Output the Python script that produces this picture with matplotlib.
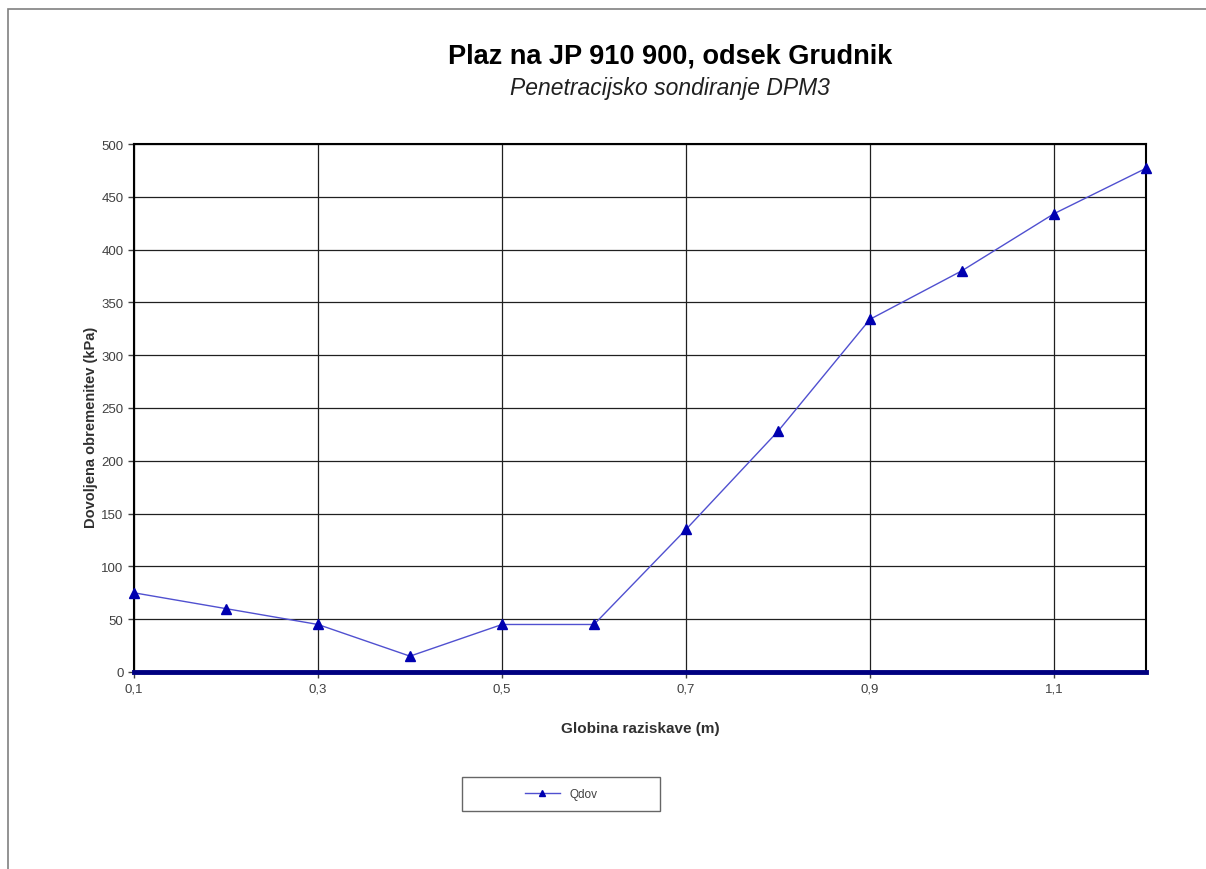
import matplotlib.pyplot as plt
from matplotlib.patches import Rectangle

# globina (m) in dovedena obremenitev (kPa)
globina = [0.1, 0.2, 0.3, 0.4, 0.5, 0.6, 0.7, 0.8, 0.9, 1.0, 1.1, 1.2]
qdov = [75, 60, 45, 15, 45, 45, 135, 228, 334, 380, 434, 477]
x_ticks = [0.1, 0.3, 0.5, 0.7, 0.9, 1.1]
x_tick_labels = ['0,1', '0,3', '0,5', '0,7', '0,9', '1,1']
y_ticks = list(range(0, 501, 50))

plt.rcParams['font.family'] = ['Liberation Sans', 'DejaVu Sans']

fig = plt.figure(figsize=(12.06, 8.70), dpi=100)
# okvir okoli grafa
fig.patches.append(Rectangle((8 / 1206, -0.01), 1.05, 1 - 10 / 870 + 0.01,
                             transform=fig.transFigure, fill=False,
                             edgecolor='#808080', linewidth=1.2))

ax = fig.add_axes([134 / 1206, 1 - 673 / 870, (1146 - 134) / 1206, (673 - 145) / 870])

ax.plot(globina, qdov, color='#5050d0', linewidth=1, marker='^',
        markersize=7, markerfacecolor='#0000b0', markeredgecolor='#0000b0',
        label='Qdov', clip_on=False, zorder=5)

ax.set_xlim(0.1, 1.2)
ax.set_ylim(0, 500)
ax.set_xticks(x_ticks)
ax.set_xticklabels(x_tick_labels)
ax.set_yticks(y_ticks)
ax.tick_params(labelsize=9.5, colors='#404040', length=4, width=1)
ax.grid(True, color='#202020', linewidth=0.9)
ax.set_axisbelow(True)

for s in ['top', 'left', 'right']:
    ax.spines[s].set_color('black')
    ax.spines[s].set_linewidth(1.5)
ax.spines['bottom'].set_color('#000080')
ax.spines['bottom'].set_linewidth(3.5)

ax.set_xlabel('Globina raziskave (m)', fontsize=11, fontweight='bold',
              color='#303030', labelpad=19)
ax.set_ylabel('Dovoljena obremenitev (kPa)', fontsize=10.5, fontweight='bold',
              color='#303030')
ax.yaxis.set_label_coords(-0.036, 0.466)

fig.text(670 / 1206, 1 - 57 / 870, 'Plaz na JP 910 900, odsek Grudnik',
         fontsize=19.5, fontweight='bold', ha='center', va='center')
fig.text(670 / 1206, 1 - 88 / 870, 'Penetracijsko sondiranje DPM3',
         fontsize=16.5, style='italic', ha='center', va='center', color='#202020')

leg = fig.legend(loc='center', bbox_to_anchor=(561 / 1206, 1 - 795 / 870),
                 fontsize=8.5, frameon=True, fancybox=False,
                 borderpad=0.9, handlelength=3, labelspacing=0)
leg.get_frame().set_edgecolor('#404040')
leg.get_frame().set_linewidth(1)
for t in leg.get_texts():
    t.set_color('#404040')
leg.legend_handles[0].set_markersize(5)
# okvir legende razširimo
leg._legend_box.set_width(176)

fig.savefig('out.png', dpi=100)
